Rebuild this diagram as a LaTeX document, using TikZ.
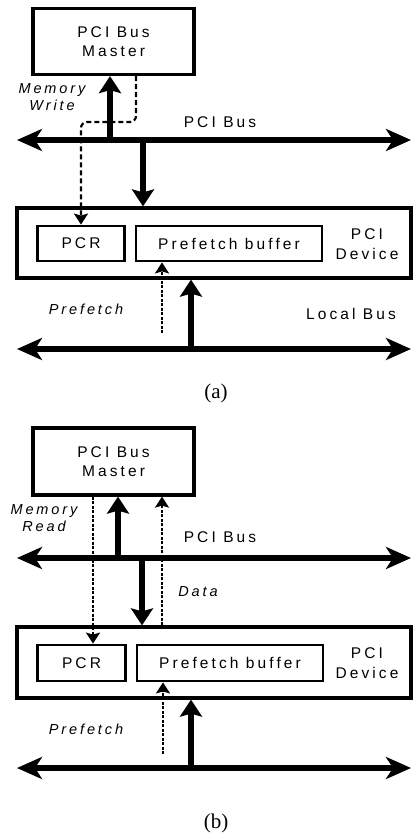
\documentclass[tikz,border=0pt]{standalone}
\usepackage{fontspec}
\setmainfont{Liberation Sans}[LetterSpace=20]
\newfontfamily\capfont{Liberation Serif}
\usetikzlibrary{arrows.meta}

\begin{document}
\begin{tikzpicture}[x=1pt, y=-1pt,
  box/.style={draw, line width=3.2pt, align=center, inner sep=0pt, font=\fontsize{15.5}{19}\selectfont},
  inbox/.style={draw, line width=2.8pt, align=center, inner sep=0pt, font=\fontsize{15.5}{19}\selectfont},
  txt/.style={align=center, inner sep=0pt, font=\fontsize{15.5}{20}\selectfont},
  lbl/.style={align=center, inner sep=0pt, font=\fontsize{14.5}{17}\selectfont\itshape},
  capt/.style={inner sep=0pt, font=\fontsize{21}{24}\selectfont\capfont},
  bus/.style={line width=6pt, {Stealth[length=25pt,width=22pt,inset=7pt]}-{Stealth[length=25pt,width=22pt,inset=7pt]}},
  fat/.style={line width=6pt, -{Stealth[length=17pt,width=22pt,inset=3pt]}},
  wrln/.style={line width=2.2pt, dash pattern=on 5pt off 3pt, rounded corners=6pt, -{Stealth[length=11pt,width=14pt,inset=2pt]}},
  dotln/.style={line width=2pt, dash pattern=on 3pt off 1.5pt, -{Stealth[length=11pt,width=14pt,inset=2pt]}}]
\useasboundingbox (0,0) rectangle (414,838);

% (a) memory write
\node[box, minimum width=161, minimum height=66] (mstA) at (113.5,41.5) {PCI Bus\\Master};
\node[box, minimum width=394, minimum height=70] (devA) at (214,243) {};
\node[inbox, minimum width=87, minimum height=35] (pcrA) at (81,243.5) {PCR};
\node[inbox, minimum width=186, minimum height=35] (pbfA) at (229,243.5) {Prefetch buffer};
\node[txt] (pdA) at (367,244) {PCI\\Device};
\node[lbl] (mwA) at (52,97) {Memory\\Write};
\node[txt] (pcilblA) at (220,122) {PCI Bus};
\node[lbl] (pfA) at (86,309) {Prefetch};
\node[txt] (lblA) at (351,314) {Local Bus};
\node[capt] (capA) at (216,393) {(a)};

\coordinate (pciAL) at (17,140);
\coordinate (pciAR) at (411,140);
\coordinate (locAL) at (17,349);
\coordinate (locAR) at (411,349);
\coordinate (upA) at (110,140);
\coordinate (dnA) at (143,140);
\coordinate (turnA) at (81,122);
\coordinate (pfsA) at (162,333);
\coordinate (lupA) at (191,349);

\draw[bus] (pciAL) -- (pciAR);
\draw[bus] (locAL) -- (locAR);
\draw[fat] (upA) -- (upA |- mstA.south);
\draw[fat] (dnA) -- (dnA |- devA.north);
\draw[wrln] ([xshift=22.5]mstA.south) |- (turnA) -- (pcrA.north);
\draw[dotln] (pfsA) -- (pfsA |- pbfA.south);
\draw[fat] (lupA) -- (lupA |- devA.south);

% (b) memory read
\node[box, minimum width=161, minimum height=67] (mstB) at (113.5,461.5) {PCI Bus\\Master};
\node[box, minimum width=394, minimum height=71] (devB) at (214,662.5) {};
\node[inbox, minimum width=88, minimum height=36] (pcrB) at (81.5,663) {PCR};
\node[inbox, minimum width=186, minimum height=36] (pbfB) at (230,663) {Prefetch buffer};
\node[txt] (pdB) at (367,663) {PCI\\Device};
\node[lbl] (mrB) at (44,518) {Memory\\Read};
\node[txt] (pcilblB) at (220,537) {PCI Bus};
\node[lbl] (dataB) at (198,592) {Data};
\node[lbl] (pfB) at (86,729) {Prefetch};
\node[capt] (capB) at (216,823) {(b)};

\coordinate (pciBL) at (17,558);
\coordinate (pciBR) at (411,558);
\coordinate (locBL) at (17,768);
\coordinate (locBR) at (411,768);
\coordinate (upB) at (118,558);
\coordinate (dnB) at (142,558);
\coordinate (rdB) at (93,558);
\coordinate (rtB) at (162,558);
\coordinate (pfsB) at (163,754);
\coordinate (lupB) at (191,768);

\draw[bus] (pciBL) -- (pciBR);
\draw[bus] (locBL) -- (locBR);
\draw[fat] (upB) -- (upB |- mstB.south);
\draw[fat] (dnB) -- (dnB |- devB.north);
\draw[dotln] (rdB |- mstB.south) -- (rdB |- pcrB.north);
\draw[dotln] (rtB |- devB.north) -- (rtB |- mstB.south);
\draw[dotln] (pfsB) -- (pfsB |- pbfB.south);
\draw[fat] (lupB) -- (lupB |- devB.south);
\end{tikzpicture}
\end{document}
